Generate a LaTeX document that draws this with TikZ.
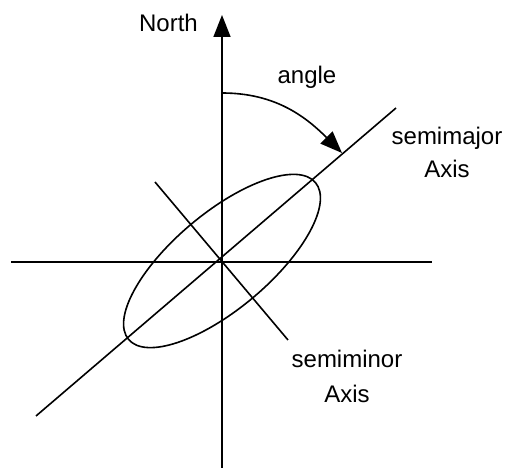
\documentclass[tikz,border=0pt]{standalone}
\usepackage{fontspec}
\setmainfont{Liberation Sans}
\usetikzlibrary{arrows.meta}
\begin{document}
\begin{tikzpicture}[x=1pt,y=1pt,
  axisline/.style={line width=1.6pt},
  bigtip/.style={-{Triangle[length=22pt,width=17pt]}},
  lbl/.style={inner sep=0pt,anchor=base,font=\fontsize{24}{28}\selectfont}]
\useasboundingbox (0,0) rectangle (515,468);
\coordinate (O) at (222,206);
\coordinate (vbot) at (222,0);
\coordinate (vtop) at (222,453);
\coordinate (hl) at (11,206);
\coordinate (hr) at (432,206);
\coordinate (majl) at (36,52);
\coordinate (maju) at (396,360);
\coordinate (minu) at (155,286);
\coordinate (minl) at (288,128);
\coordinate (arcs) at (222,375);
\coordinate (arce) at (342,315);
\draw[axisline,bigtip] (vbot) -- (vtop);
\draw[axisline] (hl) -- (hr);
\draw[axisline] (majl) -- (maju);
\draw[axisline] (minu) -- (minl);
\draw[axisline,rotate around={40:(222,207)}] (222,207) ellipse[x radius=122, y radius=48];
\draw[axisline,bigtip] (arcs) to[out=0,in=135] (arce);
\node[lbl,anchor=base east] (north) at (198,436) {North};
\node[lbl] (angle) at (307,384) {angle};
\node[lbl] (smaj) at (447,323) {semimajor};
\node[lbl] (smajax) at (447,290) {Axis};
\node[lbl] (smin) at (347,100) {semiminor};
\node[lbl] (sminax) at (347,65) {Axis};
\end{tikzpicture}
\end{document}
